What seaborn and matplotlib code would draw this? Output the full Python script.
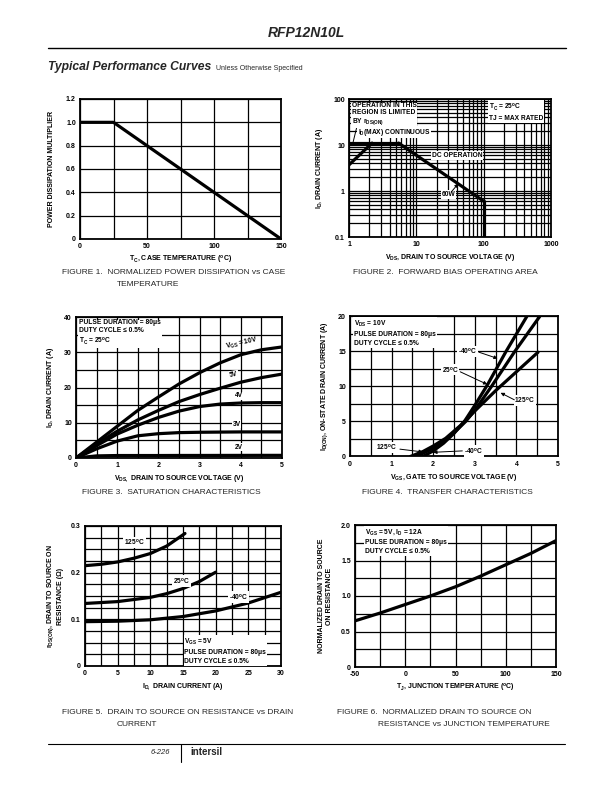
import matplotlib
matplotlib.use("Agg")
import matplotlib.pyplot as plt
import seaborn as sns
import pandas as pd
from matplotlib.ticker import FixedLocator, NullFormatter, FixedFormatter

# ---------------- data ----------------
# Figure 1
f1_temp = [0, 25, 150]
f1_mult = [1.0, 1.0, 0.0]

# Figure 2 (forward bias SOA)
f2_rds_v = [1.0, 2.2]
f2_rds_i = [3.7, 11.0]
f2_idmax_v = [1.0, 5.45]
f2_idmax_i = [11.0, 11.0]
f2_pw_v = [5.45, 10, 20, 50, 100]
f2_pw_i = [11.0, 6.0, 3.0, 1.2, 0.6]
f2_bv_v = [100, 100]
f2_bv_i = [0.6, 0.1]

# Figure 3 (saturation)
f3_vds = [0, 0.5, 1, 1.5, 2, 2.5, 3, 3.5, 4, 4.5, 5]
f3_10v = [0, 4.5, 9.0, 13.5, 17.3, 21.0, 24.2, 27.0, 29.3, 30.7, 31.5]
f3_5v = [0, 4.0, 7.6, 10.8, 13.5, 16.0, 18.0, 19.8, 21.5, 22.8, 23.8]
f3_4v = [0, 3.5, 6.8, 9.3, 11.5, 13.3, 14.6, 15.3, 15.6, 15.7, 15.7]
f3_3v = [0, 2.6, 4.8, 6.3, 6.9, 7.2, 7.3, 7.35, 7.4, 7.4, 7.4]
f3_2v = [0, 0.6, 0.7, 0.7, 0.7, 0.72, 0.72, 0.73, 0.74, 0.75, 0.75]

# Figure 4 (transfer)
f4_v_m40 = [1.75, 2.0, 2.25, 2.5, 2.75, 3.0, 3.3, 3.75, 4.25]
f4_i_m40 = [0.0, 0.8, 1.9, 3.3, 5.0, 7.3, 10.2, 15.0, 20.0]
f4_v_25 = [1.6, 2.0, 2.25, 2.5, 2.78, 3.0, 3.4, 3.96, 4.56]
f4_i_25 = [0.0, 1.2, 2.2, 3.4, 5.0, 6.6, 10.0, 15.0, 20.0]
f4_v_125 = [1.45, 1.75, 2.0, 2.3, 2.65, 3.0, 3.5, 4.0, 4.52]
f4_i_125 = [0.0, 0.7, 1.5, 2.6, 4.4, 6.5, 9.4, 12.1, 14.9]

# Figure 5 (rDS(on) vs ID)
f5_id_125 = [0, 2.5, 5, 7.5, 10, 12.5, 15.3]
f5_r_125 = [0.215, 0.218, 0.223, 0.231, 0.241, 0.257, 0.284]
f5_id_25 = [0, 5, 10, 12.5, 15, 17.5, 20]
f5_r_25 = [0.134, 0.138, 0.147, 0.155, 0.166, 0.181, 0.201]
f5_id_m40 = [0, 5, 10, 15, 20, 25, 30]
f5_r_m40 = [0.095, 0.096, 0.099, 0.106, 0.118, 0.135, 0.158]

# Figure 6 (normalized rDS(on) vs TJ)
f6_t = [-50, -25, 0, 25, 50, 75, 100, 125, 150]
f6_r = [0.65, 0.76, 0.88, 1.0, 1.13, 1.28, 1.44, 1.60, 1.78]

# tick labels
f1_xt = ['0', '50', '100', '150']
f1_yt = ['0', '0.2', '0.4', '0.6', '0.8', '1.0', '1.2']
f2_xt = ['1', '10', '100', '1000']
f2_yt = ['0.1', '1', '10', '100']
f3_xt = ['0', '1', '2', '3', '4', '5']
f3_yt = ['0', '10', '20', '30', '40']
f4_xt = ['0', '1', '2', '3', '4', '5']
f4_yt = ['0', '5', '10', '15', '20']
f5_xt = ['0', '5', '10', '15', '20', '25', '30']
f5_yt = ['0', '0.1', '0.2', '0.3']
f6_xt = ['-50', '0', '50', '100', '150']
f6_yt = ['0', '0.5', '1.0', '1.5', '2.0']

# ---------------- style ----------------
sns.set_theme(style="white")
plt.rcParams['font.family'] = ['Liberation Sans', 'DejaVu Sans']

W, H = 612, 792
fig = plt.figure(figsize=(6.12, 7.92), dpi=100)
fig.patch.set_facecolor('white')

TK = 5.0   # tick font size
LB = 5.0   # axis label size
BX = 4.8   # in-plot text size
LW = 2.3   # curve width
GW = 0.9   # grid width


def frange(a, b, step):
    n = int(round((b - a) / step))
    return [a + i * step for i in range(n + 1)]


def add_axes(l, r, t, b):
    return fig.add_axes([l / W, 1 - b / H, (r - l) / W, (b - t) / H])


def ftext(x, y, s, **kw):
    fig.text(x / W, 1 - y / H, s, **kw)


def set_ticks(ax, xmaj, xlab, xmin, ymaj, ylab, ymin):
    ax.xaxis.set_major_locator(FixedLocator(xmaj))
    ax.xaxis.set_major_formatter(FixedFormatter(xlab))
    ax.xaxis.set_minor_locator(FixedLocator(xmin))
    ax.xaxis.set_minor_formatter(NullFormatter())
    ax.yaxis.set_major_locator(FixedLocator(ymaj))
    ax.yaxis.set_major_formatter(FixedFormatter(ylab))
    ax.yaxis.set_minor_locator(FixedLocator(ymin))
    ax.yaxis.set_minor_formatter(NullFormatter())


def style_axes(ax):
    ax.set_facecolor('white')
    for sp in ax.spines.values():
        sp.set_visible(True)
        sp.set_color('black')
        sp.set_linewidth(1.3)
    ax.grid(True, which='both', color='black', linewidth=GW)
    ax.set_axisbelow(True)
    ax.tick_params(which='both', length=0, pad=3, labelsize=TK, colors='black')
    for lab in ax.get_xticklabels() + ax.get_yticklabels():
        lab.set_fontweight('bold')


def curve(ax, x, y):
    df = pd.DataFrame({'x': x, 'y': y})
    sns.lineplot(data=df, x='x', y='y', ax=ax, color='black', linewidth=LW,
                 estimator=None, sort=False, legend=False)
    ax.set_xlabel('')
    ax.set_ylabel('')


def btext(ax, x, y, s, bg=True, **kw):
    kw.setdefault('fontsize', BX)
    kw.setdefault('fontweight', 'bold')
    if bg:
        kw['bbox'] = dict(facecolor='white', edgecolor='none', pad=0.6)
    ax.text(x, y, s, color='black', **kw)


def labels(ax, xl, yl, xpad=3, ypad=4):
    ax.set_xlabel(xl, fontsize=LB, fontweight='bold', labelpad=xpad, color='black')
    ax.set_ylabel(yl, fontsize=LB, fontweight='bold', labelpad=ypad, color='black')


arr = dict(arrowstyle='-|>', color='black', lw=0.7, mutation_scale=5, shrinkA=0, shrinkB=0)

# ---------------- Figure 1 ----------------
ax1 = add_axes(80, 281, 99, 239)
curve(ax1, f1_temp, f1_mult)
ax1.set_xlim(0, 150)
ax1.set_ylim(0, 1.2)
set_ticks(ax1, [0, 50, 100, 150], f1_xt, [25, 75, 125],
          frange(0, 1.2, 0.2), f1_yt, [])
style_axes(ax1)
labels(ax1, r'T$_\mathregular{C}$, CASE TEMPERATURE ($^\mathregular{o}$C)',
       'POWER DISSIPATION MULTIPLIER', ypad=8)

# ---------------- Figure 2 ----------------
ax2 = add_axes(349, 551, 99, 237)
ax2.set_xscale('log')
ax2.set_yscale('log')
curve(ax2, f2_rds_v, f2_rds_i)
curve(ax2, f2_idmax_v, f2_idmax_i)
curve(ax2, f2_pw_v, f2_pw_i)
curve(ax2, f2_bv_v, f2_bv_i)
ax2.set_xlim(1, 1000)
ax2.set_ylim(0.1, 100)
mins = [m * d for d in (0.1, 1, 10, 100) for m in range(2, 10)]
set_ticks(ax2, [1, 10, 100, 1000], f2_xt, [v for v in mins if 1 < v < 1000],
          [0.1, 1, 10, 100], f2_yt, [v for v in mins if 0.1 < v < 100])
style_axes(ax2)
labels(ax2, r'V$_\mathregular{DS}$, DRAIN TO SOURCE VOLTAGE (V)',
       r'I$_\mathregular{D}$, DRAIN CURRENT (A)', ypad=6)
btext(ax2, 1.1, 88, 'OPERATION IN THIS\nREGION IS LIMITED\nBY r$_\\mathregular{DS(ON)}$',
      va='top', ha='left', linespacing=1.05)
btext(ax2, 1.35, 19, r'I$_\mathregular{D}$(MAX) CONTINUOUS', va='center', ha='left')
ax2.plot([1.3, 1.12], [24, 9.8], color='black', lw=0.7)
btext(ax2, 17, 5.9, 'DC OPERATION', va='center', ha='left')
btext(ax2, 24, 0.85, '60W', va='center', ha='left')
ax2.annotate('', xy=(42, 1.45), xytext=(33, 0.95), arrowprops=arr)
btext(ax2, 120, 85, 'T$_\\mathregular{C}$ = 25$^\\mathregular{o}$C\nTJ = MAX RATED',
      va='top', ha='left', linespacing=1.4)

# ---------------- Figure 3 ----------------
ax3 = add_axes(76, 282, 317, 458)
for ys in (f3_10v, f3_5v, f3_4v, f3_3v, f3_2v):
    curve(ax3, f3_vds, ys)
ax3.set_xlim(0, 5)
ax3.set_ylim(0, 40)
set_ticks(ax3, [0, 1, 2, 3, 4, 5], f3_xt, frange(0.5, 4.5, 1.0),
          [0, 10, 20, 30, 40], f3_yt, [5, 15, 25, 35])
style_axes(ax3)
labels(ax3, r'V$_\mathregular{DS,}$ DRAIN TO SOURCE VOLTAGE (V)',
       r'I$_\mathregular{D}$, DRAIN CURRENT (A)', ypad=6)
btext(ax3, 0.08, 39.3, 'PULSE DURATION = 80μs\nDUTY CYCLE ≤ 0.5%\nT$_\\mathregular{C}$ = 25$^\\mathregular{o}$C',
      va='top', ha='left', linespacing=1.2)
btext(ax3, 3.6, 30.0, r'V$_\mathregular{GS}$ = 10V', rotation=13, va='bottom', ha='left', bg=False)
btext(ax3, 3.72, 23.6, '5V', va='center', ha='left', rotation=10)
btext(ax3, 3.85, 17.6, '4V', va='center', ha='left')
btext(ax3, 3.8, 9.6, '3V', va='center', ha='left')
btext(ax3, 3.85, 3.1, '2V', va='center', ha='left')

# ---------------- Figure 4 ----------------
ax4 = add_axes(350, 558, 316.5, 456.5)
curve(ax4, f4_v_m40, f4_i_m40)
curve(ax4, f4_v_25, f4_i_25)
curve(ax4, f4_v_125, f4_i_125)
ax4.set_xlim(0, 5)
ax4.set_ylim(0, 20)
set_ticks(ax4, [0, 1, 2, 3, 4, 5], f4_xt, frange(0.5, 4.5, 1.0),
          [0, 5, 10, 15, 20], f4_yt, [2.5, 7.5, 12.5, 17.5])
style_axes(ax4)
labels(ax4, r'V$_\mathregular{GS}$, GATE TO SOURCE VOLTAGE (V)',
       r'I$_\mathregular{D(ON)}$, ON-STATE DRAIN CURRENT (A)', ypad=6)
btext(ax4, 0.1, 19.6, 'V$_\\mathregular{DS}$ = 10V\nPULSE DURATION = 80μs\nDUTY CYCLE ≤ 0.5%',
      va='top', ha='left', linespacing=1.4)
btext(ax4, 2.6, 15.0, '-40$^\\mathregular{o}$C', va='center', ha='left')
ax4.annotate('', xy=(3.55, 14.0), xytext=(3.1, 14.9), arrowprops=arr)
btext(ax4, 2.2, 12.4, '25$^\\mathregular{o}$C', va='center', ha='left')
ax4.annotate('', xy=(3.3, 10.3), xytext=(2.65, 12.1), arrowprops=arr)
btext(ax4, 3.95, 8.0, '125$^\\mathregular{o}$C', va='center', ha='left')
ax4.annotate('', xy=(3.62, 9.1), xytext=(3.95, 8.1), arrowprops=arr)
btext(ax4, 0.62, 1.3, '125$^\\mathregular{o}$C', va='center', ha='left')
ax4.annotate('', xy=(1.75, 0.65), xytext=(1.2, 1.05), arrowprops=arr)
btext(ax4, 2.75, 0.8, '-40$^\\mathregular{o}$C', va='center', ha='left')
ax4.annotate('', xy=(2.0, 0.6), xytext=(2.7, 0.8), arrowprops=arr)

# ---------------- Figure 5 ----------------
ax5 = add_axes(85, 281, 526, 666)
curve(ax5, f5_id_125, f5_r_125)
curve(ax5, f5_id_25, f5_r_25)
curve(ax5, f5_id_m40, f5_r_m40)
ax5.set_xlim(0, 30)
ax5.set_ylim(0, 0.3)
set_ticks(ax5, [0, 5, 10, 15, 20, 25, 30], f5_xt, frange(2.5, 27.5, 5.0),
          [0, 0.1, 0.2, 0.3], f5_yt, [v for v in frange(0.025, 0.275, 0.025)])
style_axes(ax5)
labels(ax5, r'I$_\mathregular{D,}$ DRAIN CURRENT (A)',
       'r$_\\mathregular{DS(ON)}$, DRAIN TO SOURCE ON\nRESISTANCE (Ω)', ypad=5)
btext(ax5, 6.0, 0.265, '125$^\\mathregular{o}$C', va='center', ha='left')
btext(ax5, 13.5, 0.182, '25$^\\mathregular{o}$C', va='center', ha='left')
btext(ax5, 22.0, 0.148, '-40$^\\mathregular{o}$C', va='center', ha='left')
btext(ax5, 15.2, 0.062, 'V$_\\mathregular{GS}$ = 5V\nPULSE DURATION = 80μs\nDUTY CYCLE ≤ 0.5%',
      va='top', ha='left', linespacing=1.4)

# ---------------- Figure 6 ----------------
ax6 = add_axes(355, 556, 525, 667)
curve(ax6, f6_t, f6_r)
ax6.set_xlim(-50, 150)
ax6.set_ylim(0, 2.0)
set_ticks(ax6, [-50, 0, 50, 100, 150], f6_xt, [-25, 25, 75, 125],
          [0, 0.5, 1.0, 1.5, 2.0], f6_yt, [0.25, 0.75, 1.25, 1.75])
style_axes(ax6)
labels(ax6, r'T$_\mathregular{J}$, JUNCTION TEMPERATURE ($^\mathregular{o}$C)',
       'NORMALIZED DRAIN TO SOURCE\nON RESISTANCE', ypad=6)
btext(ax6, -40, 1.96, 'V$_\\mathregular{GS}$ = 5V, I$_\\mathregular{D}$ = 12A\nPULSE DURATION = 80μs\nDUTY CYCLE ≤ 0.5%',
      va='top', ha='left', linespacing=1.4)

# ---------------- page text ----------------
ftext(306, 33, 'RFP12N10L', fontsize=10, fontweight='bold', style='italic',
      ha='center', va='center')
fig.add_artist(plt.Line2D([48 / W, 566 / W], [1 - 48 / H, 1 - 48 / H], color='black', lw=1.0))
ftext(48, 67, 'Typical Performance Curves', fontsize=8.7, fontweight='bold', style='italic',
      ha='left', va='center')
ftext(216, 68, 'Unless Otherwise Specified', fontsize=5, ha='left', va='center')

cap = dict(fontsize=6.0, ha='left', va='center', fontweight='normal')
ftext(62, 272, 'FIGURE 1.  NORMALIZED POWER DISSIPATION vs CASE', **cap)
ftext(117, 284, 'TEMPERATURE', **cap)
ftext(353, 272, 'FIGURE 2.  FORWARD BIAS OPERATING AREA', **cap)
ftext(82, 492, 'FIGURE 3.  SATURATION CHARACTERISTICS', **cap)
ftext(362, 492, 'FIGURE 4.  TRANSFER CHARACTERISTICS', **cap)
ftext(62, 712, 'FIGURE 5.  DRAIN TO SOURCE ON RESISTANCE vs DRAIN', **cap)
ftext(117, 724, 'CURRENT', **cap)
ftext(337, 712, 'FIGURE 6.  NORMALIZED DRAIN TO SOURCE ON', **cap)
ftext(378, 724, 'RESISTANCE vs JUNCTION TEMPERATURE', **cap)

fig.add_artist(plt.Line2D([48 / W, 565 / W], [1 - 744 / H, 1 - 744 / H], color='black', lw=0.8))
fig.add_artist(plt.Line2D([181 / W, 181 / W], [1 - 744 / H, 1 - 762 / H], color='black', lw=0.8))
ftext(170, 752, '6-226', fontsize=5.5, style='italic', ha='right', va='center')
ftext(190, 752, 'intersil', fontsize=7, fontweight='bold', ha='left', va='center')

fig.savefig('out.png', dpi=100, facecolor='white')
